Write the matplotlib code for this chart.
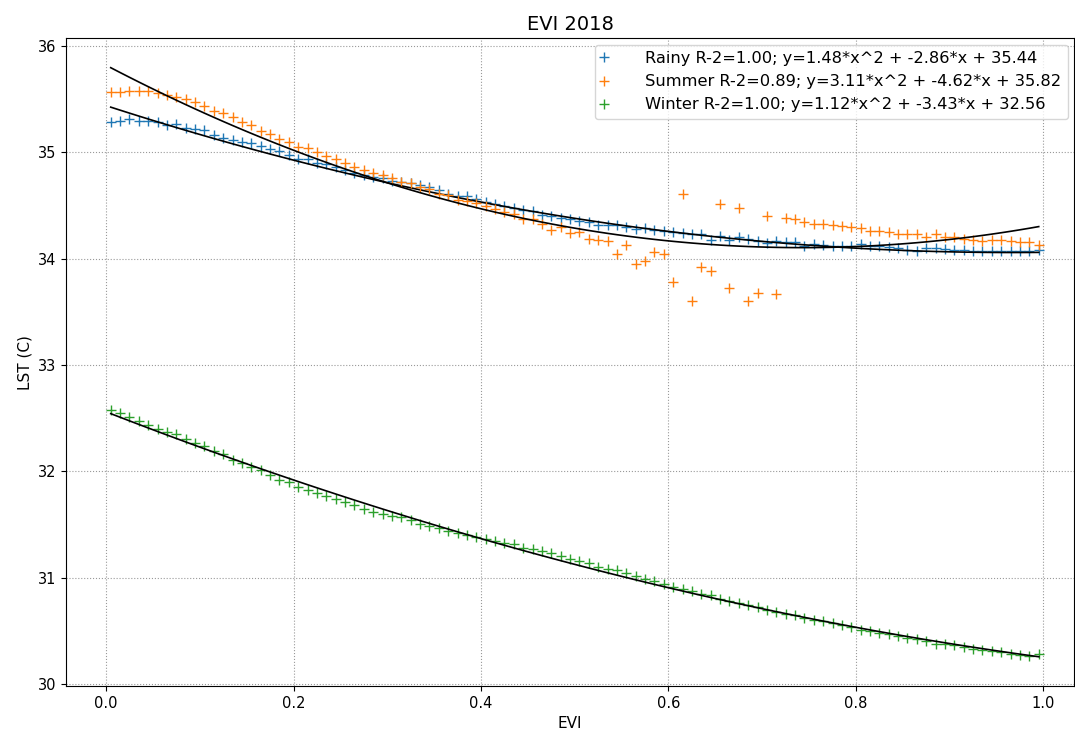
import numpy as np
import matplotlib
matplotlib.use("Agg")
import matplotlib.pyplot as plt

# EVI bins (bin centres)
evi = np.arange(100) * 0.01 + 0.005

rainy = [35.29, 35.30, 35.31, 35.30, 35.30, 35.29, 35.26, 35.27, 35.23, 35.22,
         35.21, 35.16, 35.14, 35.12, 35.10, 35.09, 35.06, 35.03, 35.01, 34.98,
         34.94, 34.94, 34.90, 34.89, 34.86, 34.83, 34.81, 34.79, 34.77, 34.76,
         34.73, 34.72, 34.71, 34.69, 34.67, 34.645, 34.61, 34.59, 34.59, 34.56,
         34.535, 34.51, 34.50, 34.48, 34.46, 34.45, 34.41, 34.40, 34.385, 34.37,
         34.357, 34.35, 34.32, 34.32, 34.32, 34.30, 34.28, 34.29, 34.27, 34.26,
         34.25, 34.245, 34.23, 34.23, 34.18, 34.21, 34.18, 34.20, 34.19, 34.17,
         34.144, 34.166, 34.157, 34.16, 34.12, 34.14, 34.13, 34.12, 34.12, 34.12,
         34.14, 34.12, 34.12, 34.11, 34.10, 34.08, 34.07, 34.10, 34.10, 34.09,
         34.08, 34.08, 34.07, 34.07, 34.07, 34.07, 34.07, 34.07, 34.07, 34.08]

summer = [35.57, 35.57, 35.577, 35.577, 35.577, 35.56, 35.54, 35.52, 35.50, 35.47,
          35.44, 35.39, 35.37, 35.33, 35.29, 35.26, 35.20, 35.17, 35.13, 35.10,
          35.05, 35.04, 35.00, 34.97, 34.94, 34.90, 34.865, 34.83, 34.81, 34.79,
          34.76, 34.72, 34.71, 34.67, 34.655, 34.61, 34.60, 34.55, 34.545, 34.52,
          34.50, 34.47, 34.44, 34.42, 34.37, 34.37, 34.33, 34.27, 34.30, 34.245,
          34.25, 34.19, 34.18, 34.17, 34.04, 34.13, 33.95, 33.98, 34.06, 34.04,
          33.78, 34.61, 33.60, 33.92, 33.88, 34.51, 33.72, 34.48, 33.60, 33.68,
          34.40, 33.665, 34.385, 34.37, 34.35, 34.33, 34.33, 34.32, 34.31, 34.295,
          34.285, 34.26, 34.26, 34.25, 34.23, 34.23, 34.23, 34.20, 34.23, 34.20,
          34.20, 34.19, 34.175, 34.17, 34.18, 34.18, 34.17, 34.16, 34.16, 34.13]

winter = [32.577, 32.545, 32.51, 32.47, 32.44, 32.40, 32.37, 32.35, 32.30, 32.27,
          32.24, 32.19, 32.16, 32.11, 32.08, 32.04, 32.01, 31.97, 31.92, 31.90,
          31.855, 31.82, 31.80, 31.77, 31.74, 31.71, 31.68, 31.65, 31.62, 31.60,
          31.58, 31.57, 31.545, 31.50, 31.49, 31.47, 31.44, 31.42, 31.40, 31.385,
          31.36, 31.345, 31.33, 31.32, 31.28, 31.27, 31.25, 31.23, 31.20, 31.18,
          31.16, 31.14, 31.10, 31.08, 31.07, 31.04, 31.02, 30.99, 30.97, 30.94,
          30.915, 30.89, 30.87, 30.85, 30.835, 30.80, 30.78, 30.76, 30.74, 30.72,
          30.70, 30.68, 30.66, 30.645, 30.625, 30.60, 30.59, 30.57, 30.55, 30.54,
          30.51, 30.50, 30.48, 30.47, 30.45, 30.43, 30.42, 30.40, 30.38, 30.375,
          30.37, 30.35, 30.33, 30.32, 30.31, 30.30, 30.285, 30.27, 30.26, 30.28]

seasons = ["Rainy", "Summer", "Winter"]
r2 = [1.00, 0.89, 1.00]
# quadratic fit coefficients (a, b, c) as printed in the legend
coefs = [(1.48, -2.86, 35.44), (3.11, -4.62, 35.82), (1.12, -3.43, 32.56)]

fig = plt.figure(figsize=(10.75, 7.33), dpi=100)
ax = fig.add_axes([0.0614, 0.064, 0.938, 0.884])

for name, vals, r, (a, b, c) in zip(seasons, [rainy, summer, winter], r2, coefs):
    lab = "%s R-2=%.2f; y=%.2f*x^2 + %.2f*x + %.2f" % (name, r, a, b, c)
    ax.plot(evi, vals, '+', ms=6.5, label=lab)
    ax.plot(evi, a * evi ** 2 + b * evi + c, 'k-', lw=1.2)

ax.set_xlim(-0.0427, 1.033)
ax.set_ylim(29.98, 36.075)
ax.grid(True, linestyle=':', color='gray', alpha=0.8)
ax.set_title("EVI 2018", fontsize=14)
ax.set_xlabel("EVI", fontsize=11)
ax.set_ylabel("LST (C)", fontsize=11)
ax.tick_params(labelsize=10.5)
ax.legend(loc='upper right', fontsize=11.7, handlelength=0.3, handletextpad=2.4,
          borderaxespad=0.4)

fig.savefig("out.png", dpi=100)
